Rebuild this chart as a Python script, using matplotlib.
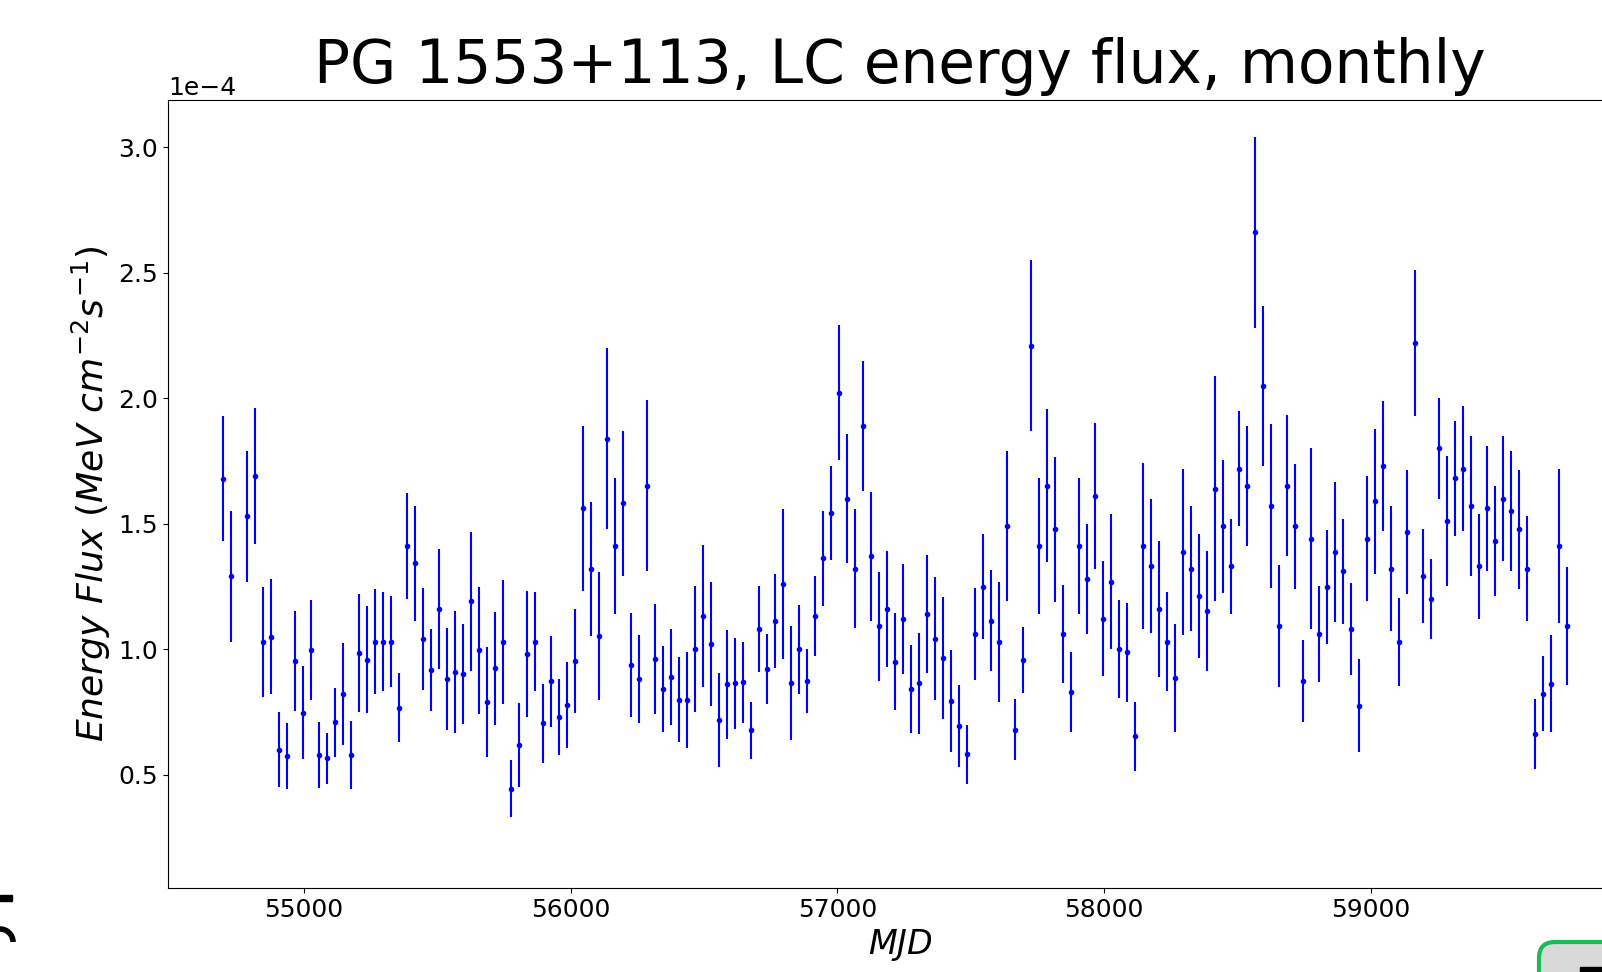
# Monthly LC energy flux light curve for PG 1553+113

import numpy as np
import matplotlib.pyplot as plt
from matplotlib.patches import Rectangle, Arc, FancyBboxPatch
from matplotlib.transforms import IdentityTransform

# Bin centres (MJD) of the monthly bins, one bin missing early on
mjd = [54697, 54727, 54787, 54817, 54847, 54877, 54907, 54937, 54967, 54997,
       55027, 55057, 55087, 55117, 55147, 55177, 55207, 55237, 55267, 55297,
       55327, 55357, 55387, 55417, 55447, 55477, 55507, 55537, 55567, 55597,
       55627, 55657, 55687, 55717, 55747, 55777, 55807, 55837, 55867, 55897,
       55927, 55957, 55987, 56017, 56047, 56077, 56107, 56137, 56167, 56197,
       56227, 56257, 56287, 56317, 56347, 56377, 56407, 56437, 56467, 56497,
       56527, 56557, 56587, 56617, 56647, 56677, 56707, 56737, 56767, 56797,
       56827, 56857, 56887, 56917, 56947, 56977, 57007, 57037, 57067, 57097,
       57127, 57157, 57187, 57217, 57247, 57277, 57307, 57337, 57367, 57397,
       57427, 57457, 57487, 57517, 57547, 57577, 57607, 57637, 57667, 57697,
       57727, 57757, 57787, 57817, 57847, 57877, 57907, 57937, 57967, 57997,
       58027, 58057, 58087, 58117, 58147, 58177, 58207, 58237, 58267, 58297,
       58327, 58357, 58387, 58417, 58447, 58477, 58507, 58537, 58567, 58597,
       58627, 58657, 58687, 58717, 58747, 58777, 58807, 58837, 58867, 58897,
       58927, 58957, 58987, 59017, 59047, 59077, 59107, 59137, 59167, 59197,
       59227, 59257, 59287, 59317, 59347, 59377, 59407, 59437, 59467, 59497,
       59527, 59557, 59587, 59617, 59647, 59677, 59707, 59737]

# Energy flux in units of 1e-4 MeV cm^-2 s^-1
flux = [1.68, 1.29, 1.53, 1.69, 1.03, 1.05, 0.60, 0.575, 0.953, 0.748,
        0.998, 0.579, 0.565, 0.709, 0.823, 0.579, 0.986, 0.959, 1.030, 1.030,
        1.030, 0.768, 1.411, 1.343, 1.041, 0.917, 1.161, 0.882, 0.909, 0.902,
        1.191, 0.996, 0.789, 0.925, 1.030, 0.445, 0.620, 0.980, 1.030, 0.705,
        0.872, 0.730, 0.778, 0.953, 1.561, 1.321, 1.051, 1.839, 1.411, 1.581,
        0.937, 0.882, 1.652, 0.963, 0.841, 0.890, 0.799, 0.799, 1.002, 1.132,
        1.022, 0.717, 0.860, 0.864, 0.868, 0.677, 1.081, 0.921, 1.112, 1.260,
        0.864, 1.000, 0.874, 1.132, 1.362, 1.543, 2.022, 1.600, 1.321, 1.890,
        1.370, 1.091, 1.161, 0.951, 1.122, 0.841, 0.864, 1.140, 1.041, 0.965,
        0.793, 0.695, 0.581, 1.061, 1.250, 1.114, 1.030, 1.490, 0.679, 0.957,
        2.209, 1.411, 1.652, 1.478, 1.061, 0.829, 1.411, 1.280, 1.610, 1.122,
        1.270, 1.002, 0.988, 0.654, 1.411, 1.331, 1.161, 1.030, 0.886, 1.388,
        1.321, 1.211, 1.152, 1.640, 1.490, 1.331, 1.720, 1.652, 2.661, 2.049,
        1.571, 1.091, 1.652, 1.490, 0.874, 1.441, 1.061, 1.250, 1.388, 1.311,
        1.081, 0.776, 1.441, 1.589, 1.730, 1.321, 1.030, 1.468, 2.220, 1.291,
        1.201, 1.801, 1.510, 1.681, 1.720, 1.571, 1.331, 1.561, 1.431, 1.600,
        1.551, 1.478, 1.321, 0.663, 0.823, 0.862, 1.411, 1.091]

# 1-sigma errors, same units
flux_err = [0.25, 0.26, 0.26, 0.27, 0.22, 0.23, 0.15, 0.13, 0.20, 0.185,
            0.20, 0.133, 0.10, 0.138, 0.203, 0.135, 0.234, 0.213, 0.21, 0.197,
            0.182, 0.139, 0.21, 0.229, 0.205, 0.164, 0.239, 0.204, 0.242, 0.198,
            0.277, 0.254, 0.22, 0.225, 0.248, 0.113, 0.168, 0.251, 0.197, 0.158,
            0.181, 0.153, 0.171, 0.207, 0.328, 0.267, 0.255, 0.36, 0.27, 0.29,
            0.208, 0.176, 0.34, 0.219, 0.172, 0.191, 0.17, 0.191, 0.252, 0.282,
            0.247, 0.187, 0.216, 0.182, 0.162, 0.113, 0.171, 0.139, 0.186, 0.297,
            0.227, 0.177, 0.127, 0.16, 0.189, 0.188, 0.269, 0.258, 0.238, 0.26,
            0.258, 0.216, 0.23, 0.192, 0.219, 0.175, 0.20, 0.234, 0.245, 0.242,
            0.204, 0.162, 0.118, 0.185, 0.209, 0.20, 0.24, 0.299, 0.121, 0.133,
            0.34, 0.27, 0.306, 0.288, 0.196, 0.159, 0.27, 0.218, 0.29, 0.229,
            0.268, 0.196, 0.198, 0.138, 0.331, 0.268, 0.27, 0.197, 0.215, 0.33,
            0.25, 0.247, 0.238, 0.449, 0.266, 0.189, 0.23, 0.239, 0.38, 0.32,
            0.328, 0.243, 0.28, 0.249, 0.164, 0.36, 0.192, 0.227, 0.28, 0.209,
            0.184, 0.187, 0.25, 0.29, 0.259, 0.25, 0.175, 0.248, 0.29, 0.187,
            0.159, 0.201, 0.258, 0.229, 0.249, 0.28, 0.209, 0.25, 0.22, 0.249,
            0.24, 0.238, 0.209, 0.138, 0.149, 0.193, 0.308, 0.235]

y = np.array(flux) * 1e-4
yerr = np.array(flux_err) * 1e-4

fig = plt.figure(figsize=(16.02, 9.72), dpi=100)
# axes runs off the right edge of the (cropped) figure
ax = fig.add_axes([0.1049, 0.0864, 0.9139, 0.8112])

ax.errorbar(mjd, y, yerr=yerr, fmt='.', color='blue', markersize=6, elinewidth=1.5)

ax.set_xlim(54491, 59980)
ax.set_ylim(0.049e-4, 3.19e-4)
ax.set_xticks([55000, 56000, 57000, 58000, 59000])
ax.ticklabel_format(axis='y', style='sci', scilimits=(0, 0))
ax.tick_params(labelsize=18)
ax.yaxis.get_offset_text().set_fontsize(18)

ax.set_xlabel(r'$MJD$', fontsize=24)
ax.set_ylabel(r'$Energy\ Flux\ (MeV\ cm^{-2}s^{-1})$', fontsize=26)
ax.set_title('PG 1553+113, LC energy flux, monthly', fontsize=43, pad=12)

# bits of other windows visible in the screenshot
px = IdentityTransform()
fig.add_artist(Rectangle((0, 71), 12, 6, color='black', transform=px))
fig.add_artist(Arc((0, 30), 26, 26, theta1=0, theta2=90, lw=4, color='black', transform=px))
fig.add_artist(FancyBboxPatch((1539, -30), 100, 60, boxstyle='round,pad=0,rounding_size=16',
                              facecolor='#d9d9d9', edgecolor='#1db954', lw=3, transform=px))
fig.add_artist(Rectangle((1580, 0), 30, 5, color='black', transform=px))

fig.savefig('out.png', dpi=100)
